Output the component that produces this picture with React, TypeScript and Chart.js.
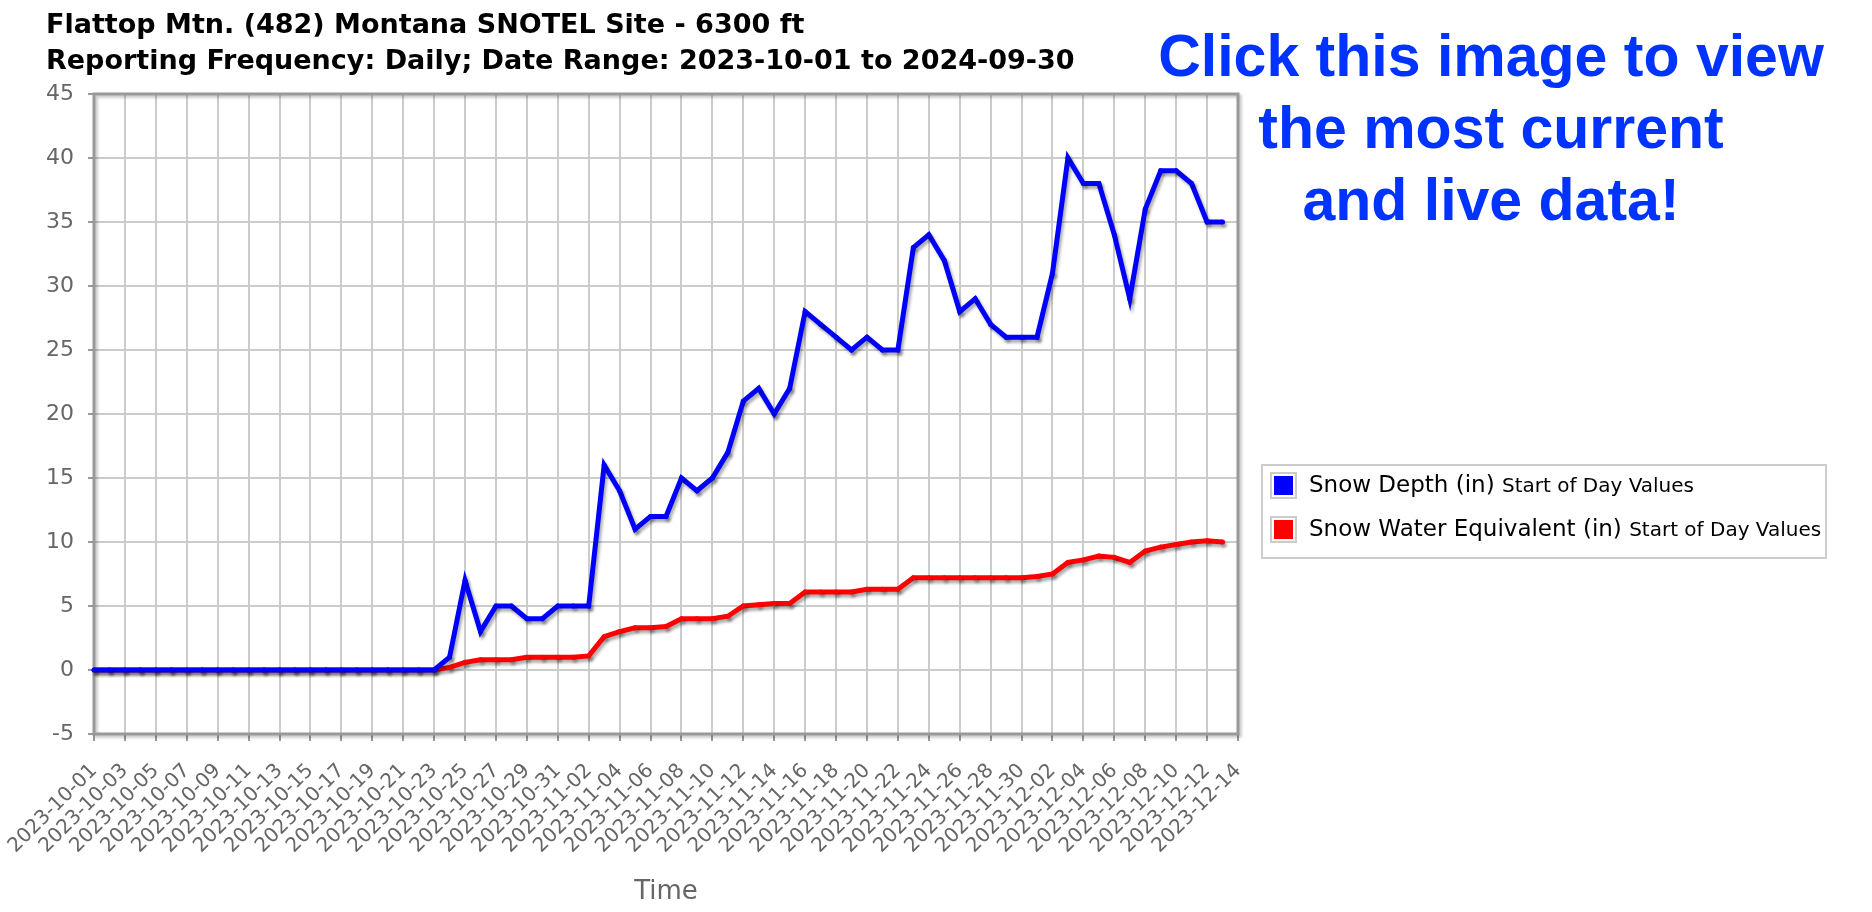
import React, { useEffect, useRef } from 'react';
import { Chart, registerables } from 'chart.js';

Chart.register(...registerables);

const titleLines = [
  'Flattop Mtn. (482) Montana SNOTEL Site - 6300 ft',
  'Reporting Frequency: Daily; Date Range: 2023-10-01 to 2024-09-30',
];

const promoLines = ['Click this image to view', 'the most current', 'and live data!'];

const dates = [
  '2023-10-01', '2023-10-02', '2023-10-03', '2023-10-04', '2023-10-05', '2023-10-06', '2023-10-07', '2023-10-08',
  '2023-10-09', '2023-10-10', '2023-10-11', '2023-10-12', '2023-10-13', '2023-10-14', '2023-10-15', '2023-10-16',
  '2023-10-17', '2023-10-18', '2023-10-19', '2023-10-20', '2023-10-21', '2023-10-22', '2023-10-23', '2023-10-24',
  '2023-10-25', '2023-10-26', '2023-10-27', '2023-10-28', '2023-10-29', '2023-10-30', '2023-10-31',
  '2023-11-01', '2023-11-02', '2023-11-03', '2023-11-04', '2023-11-05', '2023-11-06', '2023-11-07', '2023-11-08',
  '2023-11-09', '2023-11-10', '2023-11-11', '2023-11-12', '2023-11-13', '2023-11-14', '2023-11-15', '2023-11-16',
  '2023-11-17', '2023-11-18', '2023-11-19', '2023-11-20', '2023-11-21', '2023-11-22', '2023-11-23', '2023-11-24',
  '2023-11-25', '2023-11-26', '2023-11-27', '2023-11-28', '2023-11-29', '2023-11-30',
  '2023-12-01', '2023-12-02', '2023-12-03', '2023-12-04', '2023-12-05', '2023-12-06', '2023-12-07', '2023-12-08',
  '2023-12-09', '2023-12-10', '2023-12-11', '2023-12-12', '2023-12-13', '2023-12-14',
];

const tickDates = [
  '2023-10-01', '2023-10-03', '2023-10-05', '2023-10-07', '2023-10-09', '2023-10-11', '2023-10-13', '2023-10-15',
  '2023-10-17', '2023-10-19', '2023-10-21', '2023-10-23', '2023-10-25', '2023-10-27', '2023-10-29', '2023-10-31',
  '2023-11-02', '2023-11-04', '2023-11-06', '2023-11-08', '2023-11-10', '2023-11-12', '2023-11-14', '2023-11-16',
  '2023-11-18', '2023-11-20', '2023-11-22', '2023-11-24', '2023-11-26', '2023-11-28', '2023-11-30',
  '2023-12-02', '2023-12-04', '2023-12-06', '2023-12-08', '2023-12-10', '2023-12-12', '2023-12-14',
];

const snowDepth = [
  0, 0, 0, 0, 0, 0, 0, 0, 0, 0, 0, 0, 0, 0, 0, 0, 0, 0, 0, 0, 0, 0, 0,
  1, 7, 3, 5, 5, 4, 4, 5, 5, 5, 16, 14, 11, 12, 12, 15, 14, 15, 17, 21, 22, 20, 22,
  28, 27, 26, 25, 26, 25, 25, 33, 34, 32, 28, 29, 27, 26, 26, 26, 31, 40, 38, 38, 34, 29,
  36, 39, 39, 38, 35, 35,
];

const snowWaterEquivalent = [
  0, 0, 0, 0, 0, 0, 0, 0, 0, 0, 0, 0, 0, 0, 0, 0, 0, 0, 0, 0, 0, 0, 0,
  0.2, 0.6, 0.8, 0.8, 0.8, 1.0, 1.0, 1.0, 1.0, 1.1, 2.6, 3.0, 3.3, 3.3, 3.4, 4.0, 4.0, 4.0, 4.2,
  5.0, 5.1, 5.2, 5.2, 6.1, 6.1, 6.1, 6.1, 6.3, 6.3, 6.3, 7.2, 7.2, 7.2, 7.2, 7.2, 7.2, 7.2, 7.2,
  7.3, 7.5, 8.4, 8.6, 8.9, 8.8, 8.4, 9.3, 9.6, 9.8, 10.0, 10.1, 10.0,
];

const seriesNames = ['Snow Depth (in)', 'Snow Water Equivalent (in)'];
const seriesColors = ['#0000ff', '#ff0000'];
const seriesSuffix = 'Start of Day Values';
const xAxisTitle = 'Time';
const yMin = -5;
const yMax = 45;
const yStep = 5;

const tickSet = new Set(tickDates);
const FONT = '"DejaVu Sans", Verdana, sans-serif';

const shadowPlugin = {
  id: 'lineShadow',
  beforeDatasetDraw(chart: any) {
    const c = chart.ctx;
    c.save();
    c.shadowColor = 'rgba(0,0,0,0.32)';
    c.shadowBlur = 3;
    c.shadowOffsetX = 2;
    c.shadowOffsetY = 3;
  },
  afterDatasetDraw(chart: any) {
    chart.ctx.restore();
  },
};

const framePlugin = {
  id: 'plotFrame',
  beforeDatasetsDraw(chart: any) {
    const { ctx, chartArea: a } = chart;
    ctx.save();
    ctx.strokeStyle = '#999999';
    ctx.lineWidth = 3;
    ctx.shadowColor = 'rgba(0,0,0,0.25)';
    ctx.shadowBlur = 3;
    ctx.shadowOffsetX = 2;
    ctx.shadowOffsetY = 2;
    ctx.beginPath();
    ctx.moveTo(a.left, a.top);
    ctx.lineTo(a.right, a.top);
    ctx.lineTo(a.right, a.bottom);
    ctx.lineTo(a.left, a.bottom);
    ctx.closePath();
    ctx.stroke();
    ctx.restore();
  },
};

const extrasPlugin = {
  id: 'extras',
  afterDraw(chart: any) {
    const ctx = chart.ctx;
    ctx.save();
    // promo text
    ctx.fillStyle = '#0033ff';
    ctx.font = 'bold 59px "Liberation Sans", Arial, sans-serif';
    ctx.textAlign = 'center';
    ctx.textBaseline = 'middle';
    promoLines.forEach((t, i) => ctx.fillText(t, 1491, 60 + i * 72));

    // legend
    const bx = 1262, by = 465, bw = 564, bh = 93;
    ctx.fillStyle = '#ffffff';
    ctx.fillRect(bx, by, bw, bh);
    ctx.strokeStyle = '#cccccc';
    ctx.lineWidth = 2;
    ctx.strokeRect(bx, by, bw, bh);
    chart.data.datasets.forEach((ds: any, i: number) => {
      const cy = by + 20 + i * 44;
      const sx = bx + 9;
      ctx.strokeStyle = '#cccccc';
      ctx.lineWidth = 2;
      ctx.fillStyle = '#ffffff';
      ctx.fillRect(sx, cy - 12, 25, 25);
      ctx.strokeRect(sx, cy - 12, 25, 25);
      ctx.fillStyle = ds.borderColor;
      ctx.fillRect(sx + 3, cy - 9, 19, 19);
      ctx.fillStyle = '#000000';
      ctx.textAlign = 'left';
      ctx.textBaseline = 'middle';
      ctx.font = '23px ' + FONT;
      const tx = bx + 47;
      ctx.fillText(ds.label, tx, cy + 1);
      const w = ctx.measureText(ds.label + ' ').width;
      ctx.font = '20px ' + FONT;
      ctx.fillText(seriesSuffix, tx + w, cy + 2);
    });
    ctx.restore();
  },
};

export default function App() {
  const ref = useRef<HTMLCanvasElement | null>(null);

  useEffect(() => {
    if (!ref.current) return;
    const chart = new Chart(ref.current, {
      type: 'line',
      data: {
        labels: dates,
        datasets: [
          {
            label: seriesNames[0],
            data: snowDepth,
            borderColor: seriesColors[0],
            backgroundColor: seriesColors[0],
            borderWidth: 5,
            pointRadius: 2.5,
            pointBorderWidth: 0,
            pointBackgroundColor: seriesColors[0],
            tension: 0,
          },
          {
            label: seriesNames[1],
            data: snowWaterEquivalent,
            borderColor: seriesColors[1],
            backgroundColor: seriesColors[1],
            borderWidth: 5,
            pointRadius: 2.5,
            pointBorderWidth: 0,
            pointBackgroundColor: seriesColors[1],
            tension: 0,
          },
        ],
      },
      options: {
        animation: false,
        responsive: true,
        maintainAspectRatio: false,
        devicePixelRatio: 1,
        layout: { padding: { left: 46, right: 634, top: 0, bottom: 0 } },
        plugins: {
          legend: { display: false },
          tooltip: { enabled: false },
          title: {
            display: true,
            text: titleLines,
            align: 'start',
            color: '#000000',
            font: { family: FONT, size: 27, weight: 'bold', lineHeight: 1.333 },
            padding: { top: 8, bottom: 14 },
          },
        },
        scales: {
          x: {
            type: 'category',
            offset: false,
            afterFit: (s: any) => {
              s.height = 178;
              s.paddingLeft = 0;
              s.paddingRight = 0;
            },
            border: { display: false },
            grid: {
              color: (c: any) => (tickSet.has(dates[c.index]) ? '#cccccc' : 'rgba(0,0,0,0)'),
              tickColor: (c: any) => (tickSet.has(dates[c.index]) ? '#999999' : 'rgba(0,0,0,0)'),
              lineWidth: 2,
              tickLength: 7,
            },
            ticks: {
              autoSkip: false,
              minRotation: 45,
              maxRotation: 45,
              color: '#666666',
              padding: 18,
              font: { family: FONT, size: 20 },
              callback: (_v: any, i: number) => (tickSet.has(dates[i]) ? dates[i] : ''),
            },
            title: {
              display: true,
              text: xAxisTitle,
              color: '#666666',
              font: { family: FONT, size: 26 },
              padding: { top: 0, bottom: 4 },
            },
          },
          y: {
            min: yMin,
            max: yMax,
            afterFit: (s: any) => {
              s.width = 48;
              s.paddingTop = 0;
              s.paddingBottom = 0;
            },
            border: { display: false },
            grid: { color: '#cccccc', lineWidth: 2, tickColor: '#999999', tickLength: 6 },
            ticks: {
              stepSize: yStep,
              color: '#666666',
              padding: 14,
              font: { family: FONT, size: 22 },
            },
          },
        },
      },
      plugins: [framePlugin, shadowPlugin, extrasPlugin],
    } as any);
    return () => chart.destroy();
  }, []);

  return (
    <div style={{ position: 'fixed', left: 0, top: 0, width: 1872, height: 912, background: '#ffffff' }}>
      <canvas ref={ref} />
    </div>
  );
}
